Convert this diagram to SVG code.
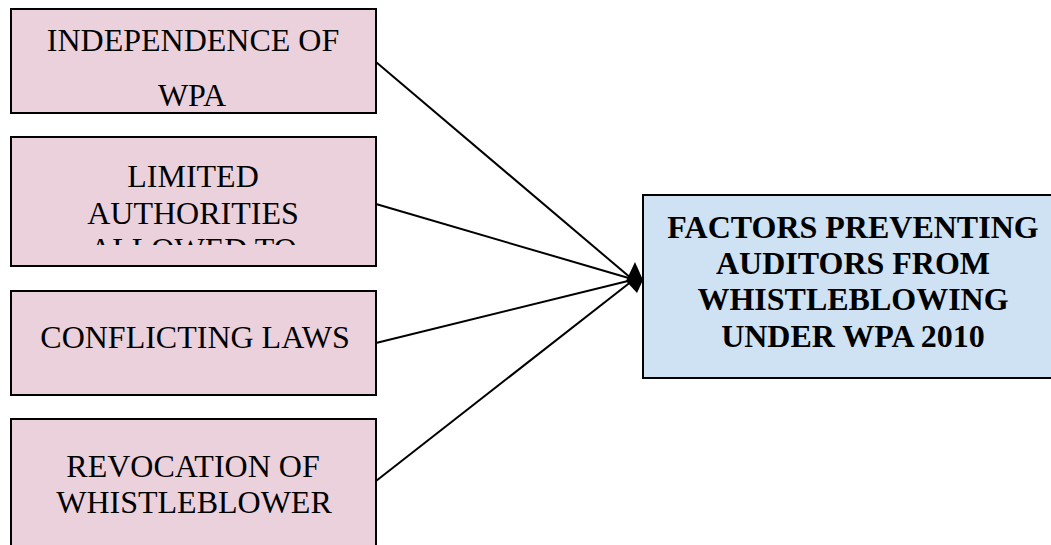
<svg xmlns="http://www.w3.org/2000/svg" width="1051" height="545" viewBox="0 0 1051 545">
<style>
.box{fill:#ead1dc;stroke:#000;stroke-width:2}
.main{fill:#cfe2f3;stroke:#000;stroke-width:2}
.t{font-family:"Liberation Serif","Times New Roman",serif;font-size:32px;fill:#000;text-anchor:middle}
.b{font-family:"Liberation Serif","Times New Roman",serif;font-size:32px;font-weight:bold;fill:#000;text-anchor:middle}
.c{stroke:#000;stroke-width:2;fill:none}
</style>
<defs>
<clipPath id="clip2"><rect x="12" y="138" width="364" height="107"/></clipPath>
</defs>
<rect width="1051" height="545" fill="#fff"/>
<g id="n1">
<rect class="box" x="11" y="9" width="365" height="104"/>
<text class="t" x="193" y="51">INDEPENDENCE OF</text>
<text class="t" x="192" y="106">WPA</text>
</g>
<g id="n2">
<rect class="box" x="11" y="137" width="365" height="129"/>
<g clip-path="url(#clip2)">
<text class="t" x="193" y="187">LIMITED</text>
<text class="t" x="193" y="224">AUTHORITIES</text>
<text class="t" x="193" y="260">ALLOWED TO</text>
</g>
</g>
<g id="n3">
<rect class="box" x="11" y="291" width="365" height="104"/>
<text class="t" x="195" y="348">CONFLICTING LAWS</text>
</g>
<g id="n4">
<rect class="box" x="11" y="419" width="365" height="140"/>
<text class="t" x="193" y="477">REVOCATION OF</text>
<text class="t" x="194" y="513">WHISTLEBLOWER</text>
</g>
<g id="n5">
<rect class="main" x="643" y="195" width="420" height="183"/>
<text class="b" x="853" y="238">FACTORS PREVENTING</text>
<text class="b" x="853" y="274">AUDITORS FROM</text>
<text class="b" x="853" y="310">WHISTLEBLOWING</text>
<text class="b" x="853" y="347">UNDER WPA 2010</text>
</g>
<g id="connectors">
<line class="c" x1="376" y1="62" x2="632" y2="279"/>
<line class="c" x1="376" y1="204" x2="632" y2="279"/>
<line class="c" x1="376" y1="343" x2="632" y2="280"/>
<line class="c" x1="376" y1="481" x2="632" y2="281"/>
<polygon points="635,262 643,280 637,293 626,281" fill="#000"/>
</g>
</svg>
